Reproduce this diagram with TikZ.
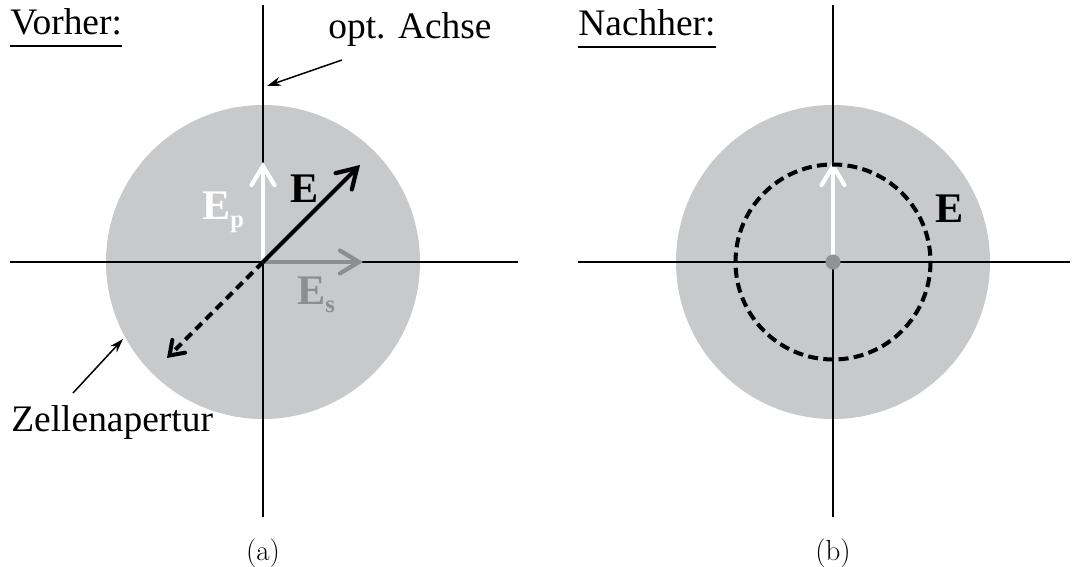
\documentclass[tikz,border=0pt]{standalone}
\usepackage{fontspec}
\usetikzlibrary{arrows.meta}
\newfontfamily\timesfont{Liberation Serif}
\definecolor{apgray}{HTML}{C8C9CB}
\definecolor{esgray}{HTML}{8E8E90}
\definecolor{dotgray}{HTML}{929294}

\begin{document}
\begin{tikzpicture}[
  x=0.2mm, y=-0.2mm,
  axis/.style={line width=0.8pt},
  vec/.style={line width=2.4pt, -{Straight Barb[length=3.8mm, width=4.6mm, line cap=round]}},
  dashvec/.style={line width=2.3pt, dash pattern=on 5pt off 3.2pt, -{Straight Barb[length=2.6mm, width=3.6mm, line cap=round]}},
  pointer/.style={line width=0.85pt, -{Stealth[length=2.8mm, width=1.8mm]}},
  lbl/.style={font=\timesfont\fontsize{21.3}{25}\selectfont, inner sep=0pt},
  veclbl/.style={font=\timesfont\bfseries\fontsize{24}{28}\selectfont, inner sep=0pt},
  sublbl/.style={font=\fontsize{16.5}{19}\selectfont, inner sep=0pt}
]
\useasboundingbox (0,0) rectangle (1078,567);
\newcommand{\vsub}[1]{\raisebox{-4.5pt}{\fontsize{14}{14}\selectfont #1}}

% (a) vorher
\coordinate (oa) at (263,262);
\fill[apgray] (oa) circle (157);
\draw[axis] (263,5) -- (263,517);
\draw[axis] (10,262) -- (518,262);

\coordinate (ep) at (263,162);
\coordinate (ee) at (360,165);
\coordinate (es) at (363,262);
\coordinate (ed) at (167,358);
\draw[vec, white] (oa) -- (ep);
\draw[vec, esgray] (oa) -- (es);
\draw[vec, black] (oa) -- (ee);
\draw[dashvec] (oa) -- (ed);

\node[veclbl, white, anchor=base west] (eplbl) at (202,220) {E\vsub{p}};
\node[veclbl, anchor=base west] (elbl) at (290,203) {E};
\node[veclbl, esgray, anchor=base west] (eslbl) at (297,305) {E\vsub{s}};

\node[lbl, anchor=base west] (vorher) at (10,35) {Vorher:};
\draw[line width=1.1pt] ([yshift=-6.5pt]vorher.base west) -- ([yshift=-6.5pt]vorher.base east);

\node[lbl, anchor=base west] (achse) at (328,39) {opt. Achse};
\coordinate (achsefrom) at (342,60);
\coordinate (achseto) at (267,86);
\draw[pointer] (achsefrom) -- (achseto);

\node[lbl, anchor=base west] (apertur) at (11,432) {Zellenapertur};
\coordinate (aperfrom) at (73,393);
\coordinate (aperto) at (123,339);
\draw[pointer] (aperfrom) -- (aperto);

\node[sublbl] (capa) at (263,553) {(a)};

% (b) nachher
\coordinate (ob) at (833,262);
\fill[apgray] (ob) circle (157);
\draw[axis] (833,5) -- (833,517);
\draw[axis] (578,262) -- (1070,262);

\coordinate (ebp) at (833,162);
\draw[vec, white] (ob) -- (ebp);
\draw[line width=2.3pt, dash pattern=on 5.7pt off 3pt] (ob) circle (97.5);
\fill[dotgray] (ob) circle (7.5);

\node[veclbl, anchor=base west] (eblbl) at (935,223) {E};

\node[lbl, anchor=base west] (nachher) at (578,36) {Nachher:};
\draw[line width=1.1pt] ([yshift=-6.5pt]nachher.base west) -- ([yshift=-6.5pt]nachher.base east);

\node[sublbl] (capb) at (833,553) {(b)};
\end{tikzpicture}
\end{document}
